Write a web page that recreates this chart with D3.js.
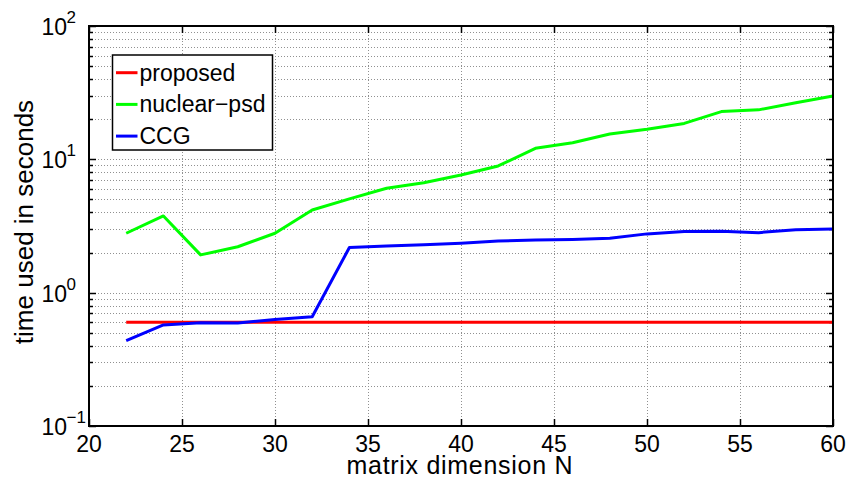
<!DOCTYPE html>
<html><head><meta charset="utf-8">
<script src="https://cdn.jsdelivr.net/npm/d3@7"></script>
<style>
body{margin:0;background:#fff;}
text{font-family:"Liberation Sans",Arial,Helvetica,sans-serif;fill:#000;}
</style></head>
<body><svg id="c" width="848" height="478"></svg>
<script>
const N = [22,24,26,28,30,32,34,36,38,40,42,44,46,48,50,52,54,56,58,60];
const proposed = [0.60,0.60,0.60,0.60,0.60,0.60,0.60,0.60,0.60,0.60,0.60,0.60,0.60,0.60,0.60,0.60,0.60,0.60,0.60,0.60];
const nuclearPsd = [2.79,3.76,1.92,2.21,2.79,4.17,5.05,6.07,6.68,7.64,8.92,12.1,13.3,15.5,16.8,18.6,22.8,23.5,26.6,29.9];
const ccg = [0.436,0.573,0.596,0.592,0.63,0.66,2.18,2.24,2.29,2.35,2.44,2.48,2.51,2.56,2.76,2.87,2.89,2.82,2.97,3.0];
const seriesNames = ["proposed","nuclear\u2212psd","CCG"];
const seriesColors = ["#ff0000","#00ff00","#0000ff"];
const xTicks = [20,25,30,35,40,45,50,55,60];
const yExponents = [-1,0,1,2];
const xLabel = "matrix dimension N";
const yLabel = "time used in seconds";

const L=89,R=833,T=26,B=426;
const svg=d3.select("#c");
const x=d3.scaleLinear().domain([20,60]).range([L,R]);
const y=d3.scaleLog().domain([0.1,100]).range([B,T]);

// minor log ticks
const minor=[];
for(const e of yExponents.slice(0,-1)){for(let k=1;k<=9;k++){minor.push(k*Math.pow(10,e));}}
minor.push(100);

const grid=svg.append("g").attr("stroke","#909090").attr("stroke-width",1).attr("stroke-dasharray","1,2").attr("fill","none");
grid.selectAll(".gx").data(xTicks.slice(1,-1)).join("line")
 .attr("x1",d=>Math.round(x(d))+0.5).attr("x2",d=>Math.round(x(d))+0.5).attr("y1",T).attr("y2",B);
grid.selectAll(".gy").data(minor.filter(v=>v>0.1&&v<100)).join("line")
 .attr("y1",d=>Math.round(y(d))+0.5).attr("y2",d=>Math.round(y(d))+0.5).attr("x1",L).attr("x2",R);

// ticks
const tk=svg.append("g").attr("stroke","#000").attr("stroke-width",1.5);
xTicks.forEach(v=>{
  const xx=Math.round(x(v))+0.5;
  tk.append("line").attr("x1",xx).attr("x2",xx).attr("y1",B).attr("y2",B-7);
  tk.append("line").attr("x1",xx).attr("x2",xx).attr("y1",T).attr("y2",T+7);
});
minor.forEach(v=>{
  const yy=Math.round(y(v))+0.5;
  const major=Math.abs(Math.log10(v)-Math.round(Math.log10(v)))<1e-9;
  const len=major?7:4;
  tk.append("line").attr("x1",L).attr("x2",L+len).attr("y1",yy).attr("y2",yy);
  tk.append("line").attr("x1",R).attr("x2",R-len).attr("y1",yy).attr("y2",yy);
});

// series
const line=d3.line().x((d,i)=>x(N[i])).y(d=>y(d));
[proposed,nuclearPsd,ccg].forEach((s,i)=>{
  svg.append("path").datum(s).attr("d",line).attr("fill","none")
   .attr("stroke",seriesColors[i]).attr("stroke-width",3).attr("stroke-linejoin","round");
});

// frame
svg.append("rect").attr("x",L).attr("y",T).attr("width",R-L).attr("height",B-T)
 .attr("fill","none").attr("stroke","#000").attr("stroke-width",2);

// x tick labels
svg.append("g").selectAll("text").data(xTicks).join("text")
 .attr("x",d=>x(d)).attr("y",452).attr("text-anchor","middle")
 .attr("font-size",23).text(d=>d);

// y tick labels
yExponents.forEach(e=>{
  const yy=y(Math.pow(10,e));
  svg.append("text").attr("x",67).attr("y",yy+9).attr("text-anchor","end").attr("font-size",23).text("10");
  svg.append("text").attr("x",66.5).attr("y",yy-3).attr("text-anchor","start").attr("font-size",17)
    .text(e<0?"\u2212"+Math.abs(e):String(e));
});

// axis labels
svg.append("text").attr("x",459.5).attr("y",474).attr("text-anchor","middle").attr("font-size",25)
 .attr("textLength",226).attr("lengthAdjust","spacing").text(xLabel);
svg.append("text").attr("transform","translate(33,222) rotate(-90)").attr("text-anchor","middle").attr("font-size",26).text(yLabel);

// legend
const lg=svg.append("g");
lg.append("rect").attr("x",112.5).attr("y",55).attr("width",160).attr("height",95)
 .attr("fill","#fff").attr("stroke","#000").attr("stroke-width",1.5);
seriesNames.forEach((n,i)=>{
  const ly=72.7+i*31.7;
  lg.append("line").attr("x1",116).attr("x2",137.5).attr("y1",ly).attr("y2",ly)
   .attr("stroke",seriesColors[i]).attr("stroke-width",3);
  lg.append("text").attr("x",139.5).attr("y",ly+8).attr("font-size",23).text(n);
});
</script></body></html>
